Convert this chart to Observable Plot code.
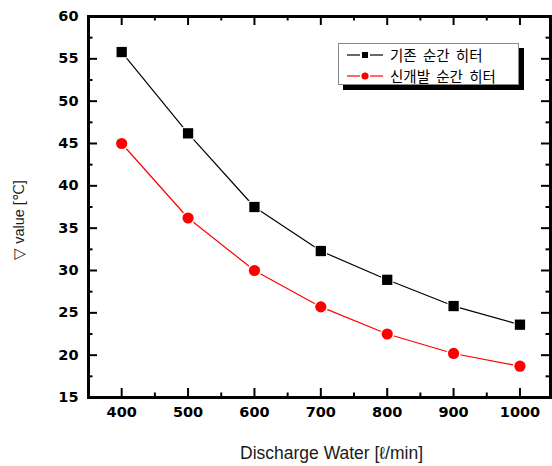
<!DOCTYPE html>
<html><head><meta charset="utf-8">
<script src="https://cdn.jsdelivr.net/npm/d3@7"></script>
<script src="https://cdn.jsdelivr.net/npm/@observablehq/plot@0.6"></script>
<style>
body{margin:0;background:#fff}
#wrap{position:relative;width:552px;height:466px}
#legend{position:absolute;left:338px;top:43px;width:179px;height:40px;border:1px solid #888;background:#fff;box-shadow:5px 5px 0 #000;font-family:"Noto Sans CJK KR",sans-serif;font-size:14.5px;word-spacing:3px;color:#000}
#legend .row{position:absolute;left:0;height:20px;line-height:20px;white-space:nowrap}
#legend svg{position:absolute;left:8px;top:0}
#legend span{position:absolute;left:51px;top:0}
</style></head><body><div id="wrap"><div id="legend"></div></div>
<script>
const discharge = [400, 500, 600, 700, 800, 900, 1000];
const existingHeater = [55.8, 46.2, 37.5, 32.3, 28.9, 25.8, 23.6];
const newHeater = [45.0, 36.2, 30.0, 25.7, 22.5, 20.2, 18.7];
const seriesNames = ["기존 순간 히터", "신개발 순간 히터"];
const seriesColors = ["#000000", "#ff0000"];
const xMajorTicks = [400, 500, 600, 700, 800, 900, 1000];
const xMinorTicks = [450, 550, 650, 750, 850, 950];
const yTickLabels = [15, 20, 25, 30, 35, 40, 45, 50, 55, 60];
const yMajorTicks = [20, 25, 30, 35, 40, 45, 50, 55];
const yMinorTicks = [17.5, 22.5, 27.5, 32.5, 37.5, 42.5, 47.5, 52.5, 57.5];
const xLabel = "Discharge Water [ℓ/min]";
const yLabel = "▽ value [℃]";

const W = 552, H = 466, mL = 88, mR = 2, mT = 16, mB = 69;
const innerW = W - mL - mR, innerH = H - mT - mB;

const existing = discharge.map((x, i) => ({x, y: existingHeater[i]}));
const fresh = discharge.map((x, i) => ({x, y: newHeater[i]}));

const tickW = 2, major = 9, minor = 4.5;

const chart = Plot.plot({
  width: W, height: H,
  marginLeft: mL, marginRight: mR, marginTop: mT, marginBottom: mB,
  style: {fontFamily: "DejaVu Sans", fontSize: "14.5px", fontWeight: "bold", background: "#fff", color: "#000"},
  x: {domain: [350, 1046], label: null},
  y: {domain: [15, 60], label: null},
  marks: [
    Plot.axisX(xMajorTicks, {tickSize: 0, tickPadding: 9, tickFormat: d => String(d)}),
    Plot.axisY(yTickLabels, {tickSize: 0, tickPadding: 10, tickFormat: d => String(d)}),
    // inward ticks
    Plot.tickX(xMajorTicks, {x: d => d, insetTop: innerH - major, strokeWidth: tickW}),
    Plot.tickX(xMinorTicks, {x: d => d, insetTop: innerH - minor, strokeWidth: tickW}),
    Plot.tickX(xMajorTicks, {x: d => d, insetBottom: innerH - major, strokeWidth: tickW}),
    Plot.tickX(xMinorTicks, {x: d => d, insetBottom: innerH - minor, strokeWidth: tickW}),
    Plot.tickY(yMajorTicks, {y: d => d, insetRight: innerW - major, strokeWidth: tickW}),
    Plot.tickY(yMinorTicks, {y: d => d, insetRight: innerW - minor, strokeWidth: tickW}),
    Plot.tickY(yMajorTicks, {y: d => d, insetLeft: innerW - major, strokeWidth: tickW}),
    Plot.tickY(yMinorTicks, {y: d => d, insetLeft: innerW - minor, strokeWidth: tickW}),
    // series
    Plot.line(existing, {x: "x", y: "y", stroke: seriesColors[0], strokeWidth: 1.2}),
    Plot.line(fresh, {x: "x", y: "y", stroke: seriesColors[1], strokeWidth: 1.2}),
    Plot.dot(existing, {x: "x", y: "y", symbol: "square", r: 7, fill: "#fff", stroke: "none"}),
    Plot.dot(existing, {x: "x", y: "y", symbol: "square", r: 5.8, fill: seriesColors[0], stroke: "none"}),
    Plot.dot(fresh, {x: "x", y: "y", r: 7, fill: "#fff", stroke: "none"}),
    Plot.dot(fresh, {x: "x", y: "y", r: 5.6, fill: seriesColors[1], stroke: "none"}),
    Plot.frame({stroke: "#000", strokeWidth: 3}),
    // axis titles
    Plot.text([xLabel], {frameAnchor: "bottom", textAnchor: "middle", dx: 12, dy: 61, lineAnchor: "bottom", fontFamily: "Liberation Sans", fontWeight: "normal", fontSize: 17.5, fill: "#1a1a1a"}),
    Plot.text([yLabel], {frameAnchor: "left", textAnchor: "middle", dx: -65, dy: 13, rotate: -90, lineAnchor: "bottom", fontFamily: "Liberation Sans", fontWeight: "normal", fontSize: 14.5, fill: "#1a1a1a"})
  ]
});
document.getElementById("wrap").prepend(chart);

// legend
const legend = document.getElementById("legend");
seriesNames.forEach((name, i) => {
  const row = document.createElement("div");
  row.className = "row";
  row.style.top = (1 + i * 21) + "px";
  const c = seriesColors[i];
  const marker = i === 0
    ? `<rect x="15" y="7" width="6" height="6" fill="${c}"/>`
    : `<circle cx="18" cy="10" r="3.6" fill="${c}"/>`;
  row.innerHTML = `<svg width="38" height="20"><line x1="0" x2="13" y1="10" y2="10" stroke="${c}" stroke-width="1.2"/><line x1="23" x2="36" y1="10" y2="10" stroke="${c}" stroke-width="1.2"/>${marker}</svg><span>${name}</span>`;
  legend.appendChild(row);
});
</script>
</body></html>
